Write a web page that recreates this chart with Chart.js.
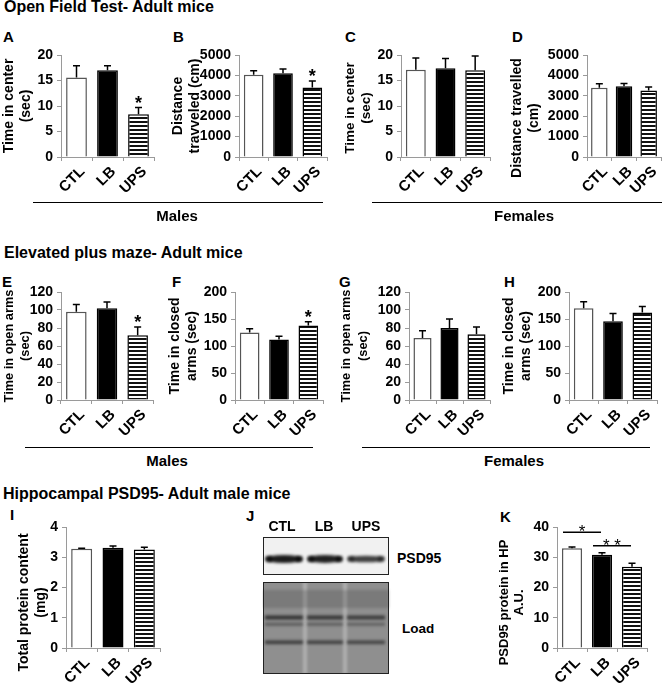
<!DOCTYPE html>
<html>
<head>
<meta charset="utf-8">
<script src="https://cdn.jsdelivr.net/npm/chart.js@4.4.1/dist/chart.umd.min.js"></script>
<style>
  html, body { margin: 0; padding: 0; background: #fff; overflow: hidden; }
  #fig { position: relative; width: 664px; height: 685px; overflow: hidden; background: #fff; }
  #fig canvas { position: absolute; }
  .t { position: absolute; white-space: nowrap; font-family: "Liberation Sans", Arial, sans-serif; font-weight: bold; color: #000; }
  .grp { position: absolute; height: 0; border-top: 1.5px solid #000; }
</style>
</head>
<body>
<div id="fig"></div>
<script>
// ---- data ----
const groups = ['CTL', 'LB', 'UPS'];

// open field test, adult mice
const ofCenterM = [15.6, 17.0, 8.4];
const ofCenterMErr = [2.3, 0.9, 1.3];
const ofCenterMSig = ['', '', '*'];
const ofDistM = [4030, 4110, 3410];
const ofDistMErr = [200, 200, 320];
const ofDistMSig = ['', '', '*'];
const ofCenterF = [17.1, 17.4, 17.0];
const ofCenterFErr = [2.3, 1.9, 2.8];
const ofDistF = [3400, 3470, 3260];
const ofDistFErr = [190, 130, 170];

// elevated plus maze, adult mice
const epmOpenM = [98, 102, 72];
const epmOpenMErr = [8, 7, 9];
const epmOpenMSig = ['', '', '*'];
const epmClosedM = [125, 112, 138];
const epmClosedMErr = [7, 6, 7];
const epmClosedMSig = ['', '', '*'];
const epmOpenF = [69, 80, 73];
const epmOpenFErr = [8, 10, 8];
const epmClosedF = [170, 146, 162];
const epmClosedFErr = [12, 14, 11];

// hippocampal PSD95, adult male mice
const protein = [3.28, 3.31, 3.26];
const proteinErr = [0.02, 0.06, 0.07];
const psd95 = [33.0, 30.8, 26.9];
const psd95Err = [0.4, 0.7, 1.1];
const psd95PairFrom = [0, 1];
const psd95PairTo = [1, 2];
const psd95PairAt = [38.3, 33.8];
const psd95PairSig = ['*', '**'];

// western blot lanes (relative band darkness)
const blotLanes = ['CTL', 'LB', 'UPS'];
const psdBand = [1.0, 0.95, 0.6];
const loadBand = [1.0, 0.95, 0.9];

// ---- helpers ----
const AXIS = '#9a9a9a';
const FONT = '"Liberation Sans", Arial, sans-serif';
const fig = document.getElementById('fig');

function hatch() {
  const c = document.createElement('canvas');
  c.width = 4; c.height = 4;
  const g = c.getContext('2d');
  g.fillStyle = '#fff'; g.fillRect(0, 0, 4, 4);
  g.fillStyle = '#111'; g.fillRect(0, 0, 4, 2);
  return g.createPattern(c, 'repeat');
}
const fills = ['#ffffff', '#000000', hatch()];
const edges = ['#555555', '#000000', '#000000'];

function text(str, x, cy, size, center) {
  const d = document.createElement('div');
  d.className = 't';
  d.textContent = str;
  d.style.fontSize = size + 'px';
  d.style.lineHeight = size + 'px';
  d.style.top = (cy - size / 2) + 'px';
  if (center) {
    d.style.left = (x - 200) + 'px';
    d.style.width = '400px';
    d.style.textAlign = 'center';
  } else {
    d.style.left = x + 'px';
  }
  fig.appendChild(d);
}

function groupLine(x1, x2, y) {
  const d = document.createElement('div');
  d.className = 'grp';
  d.style.left = x1 + 'px';
  d.style.width = (x2 - x1) + 'px';
  d.style.top = y + 'px';
  fig.appendChild(d);
}

const errBars = {
  id: 'errBars',
  afterDatasetsDraw(chart, args, o) {
    const {ctx} = chart;
    const y = chart.scales.y;
    const vals = chart.data.datasets[0].data;
    ctx.save();
    ctx.strokeStyle = '#000';
    ctx.lineWidth = 1.5;
    chart.getDatasetMeta(0).data.forEach((bar, i) => {
      const top = y.getPixelForValue(vals[i] + o.errs[i]);
      ctx.beginPath();
      ctx.moveTo(bar.x, bar.y);
      ctx.lineTo(bar.x, top);
      ctx.moveTo(bar.x - 3.5, top);
      ctx.lineTo(bar.x + 3.5, top);
      ctx.stroke();
      if (o.sig && o.sig[i]) {
        ctx.fillStyle = '#000';
        ctx.font = 'bold 18px ' + FONT;
        ctx.textAlign = 'center';
        ctx.textBaseline = 'alphabetic';
        ctx.fillText(o.sig[i], bar.x, top + 1);
      }
    });
    ctx.restore();
  }
};

const pairs = {
  id: 'pairs',
  afterDatasetsDraw(chart, args, o) {
    if (!o.from) return;
    const {ctx} = chart;
    const x = chart.scales.x, y = chart.scales.y;
    ctx.save();
    ctx.strokeStyle = '#000';
    ctx.lineWidth = 1.5;
    ctx.fillStyle = '#000';
    ctx.font = '17px ' + FONT;
    ctx.textAlign = 'center';
    ctx.textBaseline = 'alphabetic';
    o.from.forEach((f, i) => {
      const x1 = x.getPixelForValue(f) - 9;
      const x2 = x.getPixelForValue(o.to[i]) - 1;
      const py = y.getPixelForValue(o.at[i]);
      ctx.beginPath();
      ctx.moveTo(x1, py);
      ctx.lineTo(x2, py);
      ctx.stroke();
      ctx.fillText(o.sig[i].split('').join(' '), (x1 + x2) / 2, py + 5);
    });
    ctx.restore();
  }
};

const yTitle = {
  id: 'yTitle',
  afterDraw(chart, args, o) {
    const {ctx, chartArea} = chart;
    const cy = (chartArea.top + chartArea.bottom) / 2 + (o.shift || 0);
    ctx.save();
    ctx.font = 'bold ' + (o.size || 14) + 'px ' + FONT;
    ctx.fillStyle = '#000';
    ctx.textAlign = 'center';
    ctx.textBaseline = 'middle';
    o.lines.forEach((t, i) => {
      ctx.save();
      ctx.translate(8 + i * o.gap, cy);
      ctx.rotate(-Math.PI / 2);
      ctx.fillText(t, 0, 0);
      ctx.restore();
    });
    ctx.restore();
  }
};

function panel(p) {
  const xH = 46, padTop = 14, padRight = 3;
  const left = p.left, top = p.axisTop - padTop;
  const w = p.axisRight + padRight - left;
  const h = p.axisBottom + xH - top;
  const cv = document.createElement('canvas');
  cv.width = w; cv.height = h;
  cv.style.left = left + 'px';
  cv.style.top = top + 'px';
  cv.style.width = w + 'px';
  cv.style.height = h + 'px';
  fig.appendChild(cv);
  const yW = p.axisX - left;
  return new Chart(cv, {
    type: 'bar',
    data: {
      labels: groups,
      datasets: [{
        data: p.vals,
        backgroundColor: fills,
        borderColor: edges,
        borderWidth: 1.5,
        borderSkipped: 'bottom',
        categoryPercentage: 1,
        barPercentage: 0.67
      }]
    },
    options: {
      responsive: false,
      animation: false,
      layout: { padding: { top: padTop, right: padRight, left: 0, bottom: 0 } },
      plugins: {
        legend: { display: false },
        tooltip: { enabled: false },
        errBars: { errs: p.errs, sig: p.sig },
        pairs: p.pairs || {},
        yTitle: { lines: p.title, gap: p.gap, shift: p.shift || 0, size: p.titleSize }
      },
      scales: {
        x: {
          grid: { display: true, drawOnChartArea: false, drawTicks: true, tickLength: 4, color: AXIS, offset: true },
          border: { display: true, color: AXIS, width: 1 },
          ticks: {
            autoSkip: false, minRotation: 45, maxRotation: 45, padding: 2, labelOffset: 6,
            color: '#000', font: { family: FONT, weight: 'bold', size: 15 }
          },
          afterFit: s => { s.height = xH; }
        },
        y: {
          min: 0, max: p.max,
          grid: { display: true, drawOnChartArea: false, drawTicks: true, tickLength: 4, color: AXIS },
          border: { display: true, color: AXIS, width: 1 },
          ticks: {
            stepSize: p.step, padding: 4, autoSkip: false,
            callback: v => String(v),
            color: '#000', font: { family: FONT, weight: 'bold', size: 14 }
          },
          afterFit: s => { s.width = yW; }
        }
      }
    },
    plugins: [errBars, pairs, yTitle]
  });
}

// ---- row 1: open field ----
text('Open Field Test- Adult mice', 4, 7, 16);
text('A', 3, 36, 15); text('B', 173, 36, 15); text('C', 345, 36, 15); text('D', 512, 36, 15);
panel({ left: 1, axisX: 61, axisRight: 154, axisTop: 55, axisBottom: 157, gap: 17,
  vals: ofCenterM, errs: ofCenterMErr, sig: ofCenterMSig, max: 20, step: 5, title: ['Time in center', '(sec)'] });
panel({ left: 170, axisX: 239, axisRight: 327, axisTop: 55, axisBottom: 157, gap: 17,
  vals: ofDistM, errs: ofDistMErr, sig: ofDistMSig, max: 5000, step: 1000, title: ['Distance', 'travveled (cm)'] });
panel({ left: 342, axisX: 401, axisRight: 490, axisTop: 55, axisBottom: 157, gap: 16, shift: 2, titleSize: 13.5,
  vals: ofCenterF, errs: ofCenterFErr, max: 20, step: 5, title: ['Time in center', '(sec)'] });
panel({ left: 509, axisX: 587, axisRight: 661, axisTop: 55, axisBottom: 157, gap: 17, shift: 12,
  vals: ofDistF, errs: ofDistFErr, max: 5000, step: 1000, title: ['Distance travelled', '(cm)'] });
groupLine(33, 323, 202); text('Males', 177, 215, 15, true);
groupLine(372, 662, 202); text('Females', 524, 215, 15, true);

// ---- row 2: elevated plus maze ----
text('Elevated plus maze- Adult mice', 4, 253, 16);
text('E', 2, 281, 15); text('F', 172, 281, 15); text('G', 339, 281, 15); text('H', 504, 281, 15);
panel({ left: 1, axisX: 61, axisRight: 153, axisTop: 292, axisBottom: 400, gap: 16, titleSize: 12.8,
  vals: epmOpenM, errs: epmOpenMErr, sig: epmOpenMSig, max: 120, step: 20, title: ['Time in open arms', '(sec)'] });
panel({ left: 167, axisX: 235, axisRight: 323, axisTop: 292, axisBottom: 400, gap: 17,
  vals: epmClosedM, errs: epmClosedMErr, sig: epmClosedMSig, max: 200, step: 50, title: ['Time in closed', 'arms (sec)'] });
panel({ left: 338, axisX: 409, axisRight: 490, axisTop: 292, axisBottom: 400, gap: 17, titleSize: 12.8,
  vals: epmOpenF, errs: epmOpenFErr, max: 120, step: 20, title: ['Time in open arms', '(sec)'] });
panel({ left: 501, axisX: 569, axisRight: 657, axisTop: 292, axisBottom: 400, gap: 17,
  vals: epmClosedF, errs: epmClosedFErr, max: 200, step: 50, title: ['Time in closed', 'arms (sec)'] });
groupLine(25, 313, 447); text('Males', 167, 460, 15, true);
groupLine(362, 650, 447); text('Females', 514, 460, 15, true);

// ---- row 3: PSD95 ----
text('Hippocampal PSD95- Adult male mice', 3, 494, 16);
text('I', 10, 514, 15); text('J', 246, 515, 15); text('K', 500, 516, 15);
panel({ left: 16, axisX: 66, axisRight: 160, axisTop: 527, axisBottom: 648, gap: 17, shift: 15,
  vals: protein, errs: proteinErr, max: 4, step: 1, title: ['Total protein content', '(mg)'] });
panel({ left: 496, axisX: 557, axisRight: 647, axisTop: 527, axisBottom: 648, gap: 15, shift: 15, titleSize: 13,
  vals: psd95, errs: psd95Err, max: 40, step: 10, title: ['PSD95 protein in HP', 'A.U.'],
  pairs: { from: psd95PairFrom, to: psd95PairTo, at: psd95PairAt, sig: psd95PairSig } });

// ---- J: blot image ----
const laneCenters = [282, 324, 366];
blotLanes.forEach((l, i) => text(l, laneCenters[i], 526, 14, true));
text('PSD95', 397, 558, 14);
text('Load', 402, 629, 13.5);

(function drawBlot() {
  const L = 262, T = 536;
  const cv = document.createElement('canvas');
  cv.width = 130; cv.height = 142;
  cv.style.left = L + 'px'; cv.style.top = T + 'px';
  cv.style.width = '130px'; cv.style.height = '142px';
  fig.appendChild(cv);
  const g = cv.getContext('2d');
  const laneX = [[265, 303], [307, 343], [347, 385]];

  // upper box (PSD95)
  g.fillStyle = '#f1f1f1';
  g.fillRect(263 - L, 537 - T, 125, 37);
  g.save();
  g.filter = 'blur(1.6px)';
  laneX.forEach(([a, b], i) => {
    const k = psdBand[i];
    g.fillStyle = `rgba(15,15,15,${0.55 + 0.4 * k})`;
    g.beginPath();
    g.ellipse((a + b) / 2 - L, 559 - T, (b - a) / 2, 2.4 + 1.6 * k, 0, 0, Math.PI * 2);
    g.fill();
    g.fillStyle = `rgba(0,0,0,${0.5 * k + 0.2})`;
    g.fillRect(a - L + 1, 556 - T, 6, 6);
    g.fillRect(b - L - 7, 556 - T, 6, 6);
  });
  g.restore();
  g.strokeStyle = '#222'; g.lineWidth = 1;
  g.strokeRect(263.5 - L, 537.5 - T, 125, 37);

  // lower box (loading control)
  g.fillStyle = '#8f8f8f';
  g.fillRect(263 - L, 582 - T, 126, 92);
  g.save();
  g.filter = 'blur(1.5px)';
  g.fillStyle = 'rgba(255,255,255,0.3)';
  [305, 345].forEach(x => g.fillRect(x - 2 - L, 582 - T, 4, 92));
  g.fillStyle = 'rgba(60,60,60,0.25)';
  g.fillRect(263 - L, 590 - T, 126, 18);
  laneX.forEach(([a, b], i) => {
    const k = loadBand[i];
    g.fillStyle = `rgba(25,25,25,${0.8 * k})`;
    g.fillRect(a - L, 615.5 - T, b - a, 4);
    g.fillStyle = `rgba(40,40,40,${0.6 * k})`;
    g.fillRect(a - L, 623 - T, b - a, 2.5);
    g.fillStyle = `rgba(30,30,30,${0.75 * k})`;
    g.fillRect(a - L, 640.5 - T, b - a, 3.5);
  });
  g.restore();
  g.strokeStyle = '#222';
  g.strokeRect(263.5 - L, 582.5 - T, 125, 91);
})();
</script>
</body>
</html>
